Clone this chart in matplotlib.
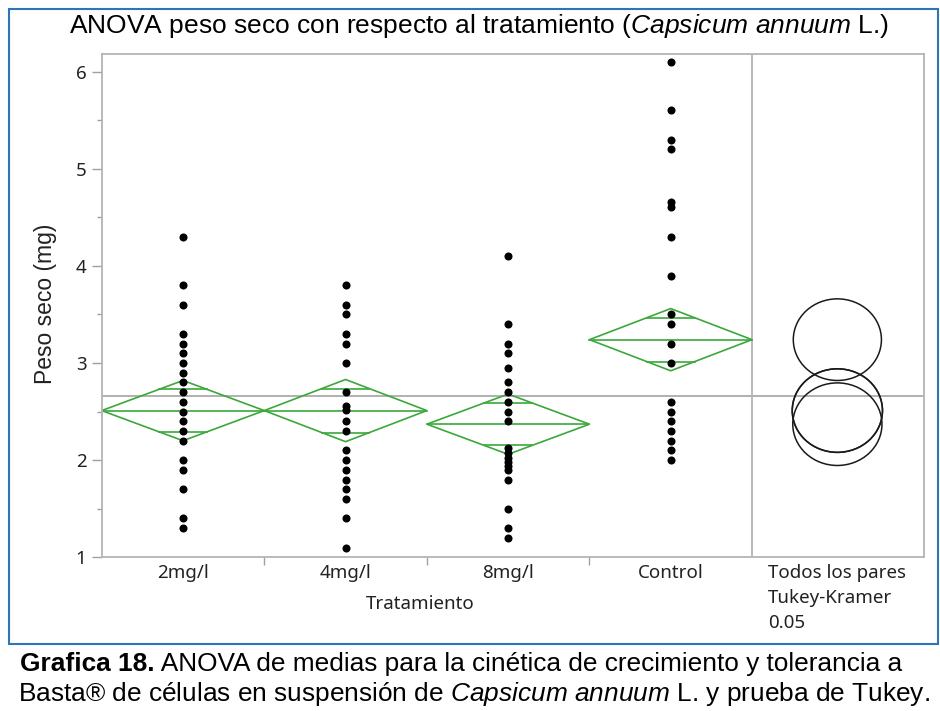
import matplotlib
matplotlib.use('Agg')
import matplotlib.pyplot as plt
from matplotlib.patches import Polygon, Ellipse, Rectangle
import numpy as np

plt.rcParams['mathtext.fontset'] = 'custom'
plt.rcParams['mathtext.rm'] = 'Liberation Sans'
plt.rcParams['mathtext.it'] = 'Liberation Sans:italic'
plt.rcParams['mathtext.bf'] = 'Liberation Sans:bold'

# datos
groups = ['2mg/l', '4mg/l', '8mg/l', 'Control']
peso_2mg = [4.3, 3.8, 3.6, 3.3, 3.2, 3.1, 3.0, 2.9, 2.8, 2.7, 2.6, 2.5, 2.4, 2.3, 2.2, 2.0, 1.9, 1.7, 1.4, 1.3]
peso_4mg = [3.8, 3.6, 3.5, 3.3, 3.2, 3.0, 2.7, 2.56, 2.52, 2.4, 2.3, 2.1, 2.0, 1.9, 1.8, 1.7, 1.6, 1.4, 1.1]
peso_8mg = [4.1, 3.4, 3.2, 3.1, 2.95, 2.8, 2.7, 2.6, 2.5, 2.4, 2.12, 2.07, 2.02, 1.98, 1.94, 1.9, 1.8, 1.5, 1.3, 1.2]
peso_control = [6.1, 5.6, 5.3, 5.2, 4.66, 4.61, 4.3, 3.9, 3.5, 3.4, 3.2, 3.0, 2.6, 2.5, 2.4, 2.3, 2.2, 2.1, 2.0]
means = [2.51, 2.51, 2.37, 3.24]
ci_half = [0.31, 0.32, 0.31, 0.32]
tukey_radius = [0.43, 0.43, 0.425, 0.42]
grand_mean = 2.66
tukey_label = 'Todos los pares\nTukey-Kramer\n0.05'

data = [peso_2mg, peso_4mg, peso_8mg, peso_control]

green = '#3aa83a'
frame_gray = '#b4b4b4'
text_col = '#222222'

fig = plt.figure(figsize=(9.4, 7.11), dpi=100)
ax = fig.add_axes([0.1082, 0.2162, 0.8748, 0.7078])
xmax = 4.558
ax.set_xlim(-0.5, xmax)
ax.set_ylim(1, 6.18)

for s in ax.spines.values():
    s.set_color(frame_gray)
    s.set_linewidth(1.3)

ax.axhline(grand_mean, color='#aaaaaa', lw=1.3, zorder=1)
ax.axvline(3.5, color=frame_gray, lw=1.3, zorder=1)

off = 1 / np.sqrt(2)
for i, (vals, m, h) in enumerate(zip(data, means, ci_half)):
    diamond = Polygon([(i - 0.5, m), (i, m + h), (i + 0.5, m), (i, m - h)],
                      closed=True, fill=False, ec=green, lw=1.2, zorder=2)
    ax.add_patch(diamond)
    ax.plot([i - 0.5, i + 0.5], [m, m], color=green, lw=1.2, zorder=2)
    w = 0.5 * (1 - off)
    for sgn in (1, -1):
        ax.plot([i - w, i + w], [m + sgn * h * off] * 2, color=green, lw=1.2, zorder=2)
    ax.plot(np.full(len(vals), i), vals, 'o', color='black', ms=5.8, mec='none', zorder=3)

# circulos de comparacion Tukey-Kramer
bbox = ax.get_window_extent()
xpx = bbox.width / (xmax + 0.5)
ypx = bbox.height / (6.18 - 1)
cx = 4.025
for m, r in zip(means, tukey_radius):
    ax.add_patch(Ellipse((cx, m), 2 * r * 1.08 * ypx / xpx, 2 * r,
                         fill=False, ec='#1a1a1a', lw=1.1, zorder=2))

ax.set_yticks([1, 2, 3, 4, 5, 6])
ax.set_yticks(np.arange(1.5, 6, 1), minor=True)
ax.set_xticks(list(range(4)) + [cx], groups + [tukey_label])
ax.set_xticks([0.5, 1.5, 2.5], minor=True)
ax.tick_params(axis='y', which='major', length=7, width=1, color='#a0a0a0',
               labelsize=13.5, labelcolor=text_col, pad=4)
ax.tick_params(axis='y', which='minor', length=3.6, width=1, color='#a0a0a0')
ax.tick_params(axis='x', which='major', length=0, labelsize=13.5, labelcolor=text_col, pad=5)
ax.tick_params(axis='x', which='minor', length=6, width=1, color='#a0a0a0')
for lab in ax.get_xticklabels() + ax.get_yticklabels():
    lab.set_fontfamily('Noto Sans')
last = ax.get_xticklabels()[-1]
last.set_multialignment('left')
last.set_linespacing(1.5)

ax.set_xlabel('Tratamiento', fontsize=13.5, fontfamily='Noto Sans', color=text_col)
ax.xaxis.set_label_coords(0.387, -0.0928)
ax.xaxis.label.set_va('center')
ax.set_ylabel('Peso seco (mg)', fontsize=16.5, fontfamily='Liberation Sans', color=text_col)
ax.yaxis.set_label_coords(-0.0683, 0.504)
ax.yaxis.label.set_va('center')

fig.text(479 / 940, 1 - 33 / 711,
         r'ANOVA peso seco con respecto al tratamiento ($\mathit{Capsicum\ annuum}$ L.)',
         ha='center', va='baseline', fontsize=19, fontfamily='Liberation Sans', color='black')

fig.add_artist(Rectangle((9 / 940, 1 - 644 / 711), 929 / 940, 635 / 711, transform=fig.transFigure,
                         fill=False, ec='#2e75b6', lw=1.5))

# pie de figura
cap = dict(fontsize=18.9, fontfamily='Liberation Sans', color='black')
t_bold = fig.text(20 / 940, 1 - 671 / 711, 'Grafica 18.', ha='left', va='baseline',
                  fontweight='bold', **cap)
ax.annotate(' ANOVA de medias para la cinética de crecimiento y tolerancia a',
            xy=(1, 0), xycoords=t_bold, ha='left', va='bottom', annotation_clip=False, **cap)
fig.text(18 / 940, 1 - 701 / 711,
         r'Basta® de células en suspensión de $\mathit{Capsicum\ annuum}$ L. y prueba de Tukey.',
         ha='left', va='baseline', **cap)

fig.savefig('out.png', dpi=100)
